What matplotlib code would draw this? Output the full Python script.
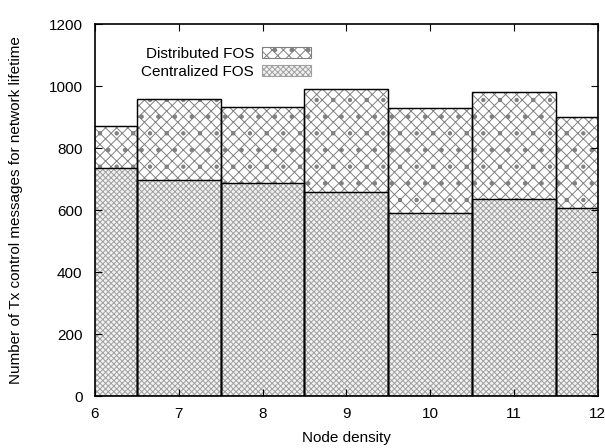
import matplotlib.pyplot as plt
import matplotlib as mpl

node_density = [6, 7, 8, 9, 10, 11, 12]
distributed_fos = [870, 960, 932, 990, 928, 980, 900]
centralized_fos = [735, 697, 688, 660, 590, 635, 608]

plt.rcParams['font.family'] = ['Liberation Sans', 'DejaVu Sans']
mpl.rcParams['hatch.linewidth'] = 0.7

fig = plt.figure(figsize=(6.05, 4.48), dpi=100)
ax = fig.add_axes([0.157, 0.116, 0.831, 0.830])

dist = ax.bar(node_density, distributed_fos, width=1.0, color='white',
              edgecolor='#808080', linewidth=0.8, hatch='xxx.',
              label='Distributed FOS')
cent = ax.bar(node_density, centralized_fos, width=1.0, color='#f2f2f2',
              edgecolor='#a0a0a0', linewidth=0.8, hatch='xxxxxx',
              label='Centralized FOS')

# hatch colour follows edgecolor; outline the boxes separately in black
for p in list(dist) + list(cent):
    ax.add_patch(plt.Rectangle(p.get_xy(), p.get_width(), p.get_height(),
                               fill=False, edgecolor='black', linewidth=1.0,
                               zorder=p.get_zorder() + 0.1))

ax.set_xlim(6, 12)
ax.set_ylim(0, 1200)
ax.set_xticks(node_density)
ax.set_yticks(range(0, 1201, 200))
ax.tick_params(direction='in', top=True, right=True, length=5, labelsize=11)
ax.tick_params(axis='x', pad=8)
ax.tick_params(axis='y', pad=9)
for s in ax.spines.values():
    s.set_linewidth(1.2)

ax.set_xlabel('Node density', fontsize=11, labelpad=7)
ax.set_ylabel('Number of Tx control messages for network lifetime',
              fontsize=11, labelpad=18)

leg = ax.legend(loc='upper left', bbox_to_anchor=(0.08, 0.955), frameon=False,
                markerfirst=False, handlelength=3.2, handleheight=0.7,
                handletextpad=0.5, labelspacing=0.25, fontsize=11,
                borderaxespad=0)
for t in leg.get_texts():
    t.set_ha('right')

fig.savefig('out.png', dpi=100)
